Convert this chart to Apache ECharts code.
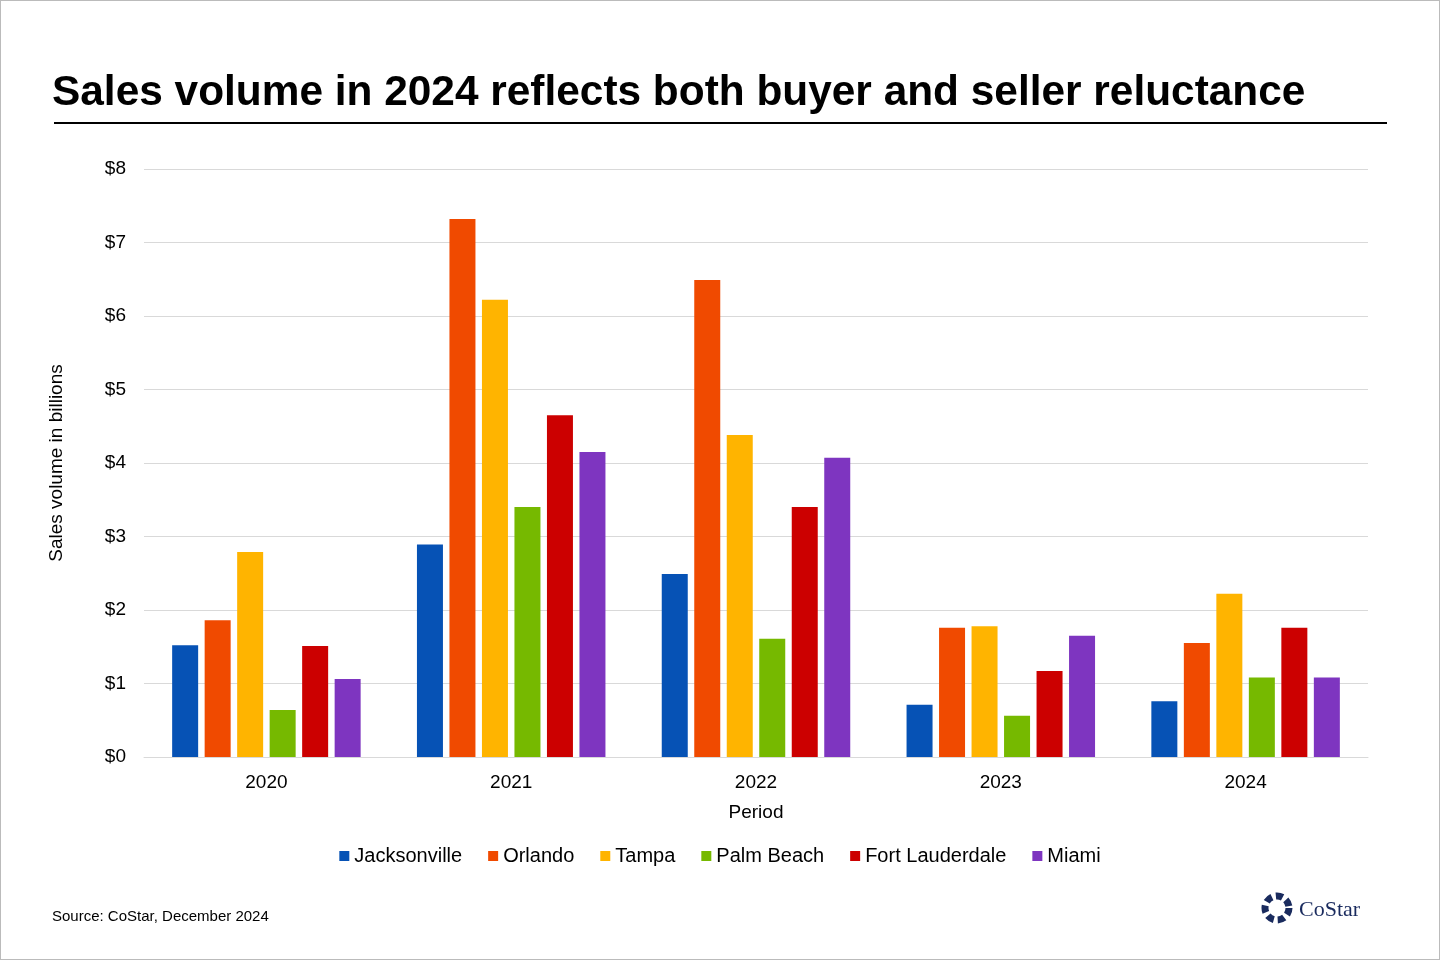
<!DOCTYPE html>
<html><head><meta charset="utf-8">
<script src="https://cdn.jsdelivr.net/npm/echarts@6/dist/echarts.min.js"></script>
<style>html,body{margin:0;padding:0;background:#fff}#c{width:1440px;height:960px;box-sizing:border-box;border:1px solid #bbb}</style>
</head><body><div id="c"></div>
<script>
const categories = ['2020','2021','2022','2023','2024'];
const seriesNames = ['Jacksonville','Orlando','Tampa','Palm Beach','Fort Lauderdale','Miami'];
const jacksonville = [1.52, 2.89, 2.49, 0.71, 0.76];
const orlando = [1.86, 7.32, 6.49, 1.76, 1.55];
const tampa = [2.79, 6.22, 4.38, 1.78, 2.22];
const palmBeach = [0.64, 3.40, 1.61, 0.56, 1.08];
const fortLauderdale = [1.51, 4.65, 3.40, 1.17, 1.76];
const miami = [1.06, 4.15, 4.07, 1.65, 1.08];
const colors = ['#0652B5','#F04A00','#FFB400','#76B900','#CC0000','#7E35C0'];
const values = [jacksonville, orlando, tampa, palmBeach, fortLauderdale, miami];
const F = 'Liberation Sans, Arial, sans-serif';
const chart = echarts.init(document.getElementById('c'));
chart.setOption({
  animation:false,
  textStyle:{fontFamily:F},
  title:[{text:'Sales volume in 2024 reflects both buyer and seller reluctance',left:46,top:66,textStyle:{fontSize:42.4,fontWeight:'bold',color:'#000',fontFamily:F}},
    {text:'Source: CoStar, December 2024',left:46,top:903,textStyle:{fontSize:15,fontWeight:'normal',color:'#000',fontFamily:F}},
    {text:'CoStar',left:1293,top:893,textStyle:{fontSize:22,fontWeight:'normal',color:'#1a2b5e',fontFamily:'Liberation Serif, serif'}}],
  graphic:[{type:'line',shape:{x1:53,y1:122,x2:1386,y2:122},style:{stroke:'#000',lineWidth:2}},
    {type:'circle',shape:{cx:1276,cy:907,r:12},style:{fill:'none',stroke:'#1a2b5e',lineWidth:7,lineDash:[7,4]}}],
  legend:{bottom:88,left:'center',itemWidth:10,itemHeight:10,itemGap:26,icon:'rect',textStyle:{fontSize:20,color:'#000',fontFamily:F}},
  grid:{left:143,right:71,top:168,bottom:202},
  xAxis:{type:'category',data:categories,name:'Period',nameLocation:'middle',nameGap:46,nameTextStyle:{fontSize:19,color:'#000'},
    axisLine:{lineStyle:{color:'#d9d9d9'}},axisTick:{show:false},axisLabel:{fontSize:19,color:'#000',margin:16}},
  yAxis:{type:'value',min:0,max:8,interval:1,name:'Sales volume in billions',nameLocation:'middle',nameGap:78,nameTextStyle:{fontSize:19,color:'#000'},
    axisLabel:{formatter:'${value}',fontSize:19,color:'#000',margin:18},splitLine:{lineStyle:{color:'#d9d9d9'}}},
  series:seriesNames.map((n,i)=>({name:n,type:'bar',data:values[i],itemStyle:{color:colors[i]},barGap:'25%',barCategoryGap:'23%'}))
});
</script></body></html>
